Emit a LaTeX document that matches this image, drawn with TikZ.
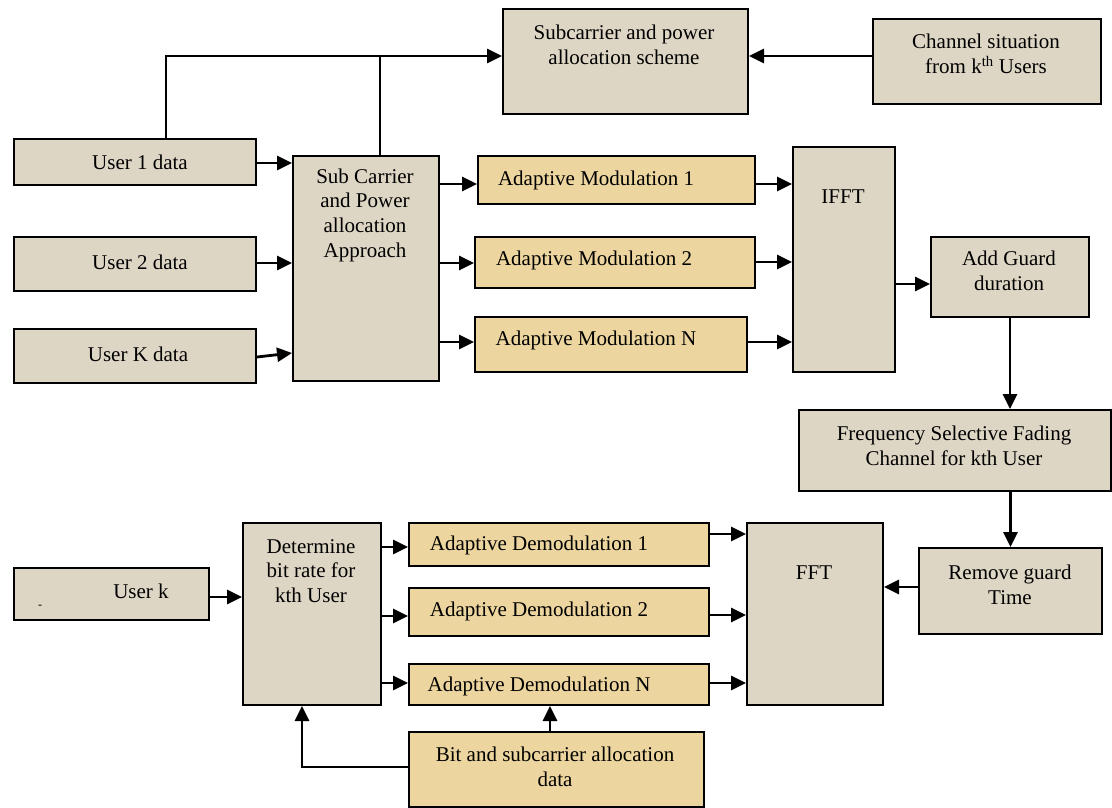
\documentclass[tikz,border=0pt]{standalone}
\usepackage{fontspec}
\setmainfont{Liberation Serif}
\usetikzlibrary{arrows.meta}
\definecolor{beige}{RGB}{222,214,197}
\definecolor{gold}{RGB}{236,213,158}
\tikzset{
  box/.style={draw=black, line width=2pt, fill=beige, inner sep=0pt, anchor=north west},
  goldbox/.style={box, fill=gold},
  txt/.style={font=\fontsize{21}{24.7}\selectfont, align=center, inner sep=0pt},
  arr/.style={line width=2.8pt, -{Triangle[length=15pt,width=14pt]}},
  ln/.style={line width=2.8pt}
}
\newcommand{\bx}[6]{\node[#1, minimum width=#4pt-#2pt, minimum height=#5pt-#3pt] (#6) at (#2,-#3) {};}
\begin{document}
\begin{tikzpicture}[x=1pt,y=1pt]
\useasboundingbox (0,0) rectangle (1112,-808);
% boxes
\bx{box}{502}{8}{747}{113}{scheme}
\bx{box}{872}{18}{1100}{103}{chan}
\bx{box}{13}{138}{255}{184}{uA}
\bx{box}{13}{236}{255}{290}{uB}
\bx{box}{13}{328}{255}{382}{uK}
\bx{box}{292}{155}{438}{380}{sca}
\bx{goldbox}{477}{155}{754}{203}{mA}
\bx{goldbox}{474}{236}{754}{287}{mB}
\bx{goldbox}{474}{316}{746}{371}{mN}
\bx{box}{792}{146}{894}{371}{ifft}
\bx{box}{930}{236}{1088}{316}{guard}
\bx{box}{798}{409}{1110}{490}{fsf}
\bx{box}{918}{547}{1101}{633}{rem}
\bx{box}{746}{522}{882}{704}{fft}
\bx{box}{242}{522}{380}{704}{det}
\bx{goldbox}{408}{522}{708}{565}{dA}
\bx{goldbox}{408}{587}{708}{635}{dB}
\bx{goldbox}{408}{663}{708}{704}{dN}
\bx{goldbox}{408}{731}{703}{806}{bit}
\bx{box}{13}{567}{208}{619}{uk}
% texts
\node[txt] (t-scheme) at (624,-45) {Subcarrier and power\\allocation scheme};
\node[txt] (t-chan) at (986,-54) {Channel situation\\from k\textsuperscript{th} Users};
\node[txt] (t-uA) at (140,-162) {User 1 data};
\node[txt] (t-uB) at (140,-262) {User 2 data};
\node[txt] (t-uK) at (138,-354) {User K data};
\node[txt] (t-sca) at (365,-215) {Sub Carrier\\and Power\\allocation\\Approach};
\node[txt] (t-mA) at (596,-180) {Adaptive Modulation 1};
\node[txt] (t-mB) at (594,-260) {Adaptive Modulation 2};
\node[txt] (t-mN) at (596,-340) {Adaptive Modulation N};
\node[txt] (t-ifft) at (843,-197) {IFFT};
\node[txt] (t-guard) at (1009,-271) {Add Guard\\duration};
\node[txt] (t-fsf) at (954,-446) {Frequency Selective Fading\\Channel for kth User};
\node[txt] (t-rem) at (1010,-585) {Remove guard\\Time};
\node[txt] (t-fft) at (814,-573) {FFT};
\node[txt] (t-det) at (311,-571) {Determine\\bit rate for\\kth User};
\node[txt] (t-dA) at (539,-545) {Adaptive Demodulation 1};
\node[txt] (t-dB) at (539,-611) {Adaptive Demodulation 2};
\node[txt] (t-dN) at (539,-686) {Adaptive Demodulation N};
\node[txt] (t-bit) at (555,-767) {Bit and subcarrier allocation\\data};
\node[txt] (t-uk) at (141,-591) {User k};
\node[font=\fontsize{12}{12}\selectfont, inner sep=0pt] (t-dash) at (40,-607) {-};
% junctions
\coordinate (jA) at (166,-56);
\coordinate (jB) at (380,-56);
\coordinate (jC) at (302,-767);
% connectors
\draw[arr] (uA.north -| jA) -- (jA) -- (scheme.west |- jA);
\draw[ln] (sca.north -| jB) -- (jB);
\draw[arr] (chan.west |- jA) -- (scheme.east |- jA);
\draw[arr] (uA.east |- 0,-163) -- (sca.west |- 0,-163);
\draw[arr] (uB.east |- 0,-263) -- (sca.west |- 0,-263);
\draw[arr] (uK.east |- 0,-357) -- (sca.west |- 0,-353);
\draw[arr] (sca.east |- 0,-184) -- (mA.west |- 0,-184);
\draw[arr] (sca.east |- 0,-263) -- (mB.west |- 0,-263);
\draw[arr] (sca.east |- 0,-342) -- (mN.west |- 0,-342);
\draw[arr] (mA.east |- 0,-184) -- (ifft.west |- 0,-184);
\draw[arr] (mB.east |- 0,-262) -- (ifft.west |- 0,-262);
\draw[arr] (mN.east |- 0,-342) -- (ifft.west |- 0,-342);
\draw[arr] (ifft.east |- 0,-284) -- (guard.west |- 0,-284);
\draw[arr] (guard.south) -- (guard.south |- fsf.north);
\draw[arr] (rem.north |- fsf.south) -- (rem.north);
\draw[arr] (rem.west |- 0,-587) -- (fft.east |- 0,-587);
\draw[arr] (uk.east |- 0,-597) -- (det.west |- 0,-597);
\draw[arr] (det.east |- 0,-547) -- (dA.west |- 0,-547);
\draw[arr] (det.east |- 0,-616) -- (dB.west |- 0,-616);
\draw[arr] (det.east |- 0,-683) -- (dN.west |- 0,-683);
\draw[arr] (dA.east |- 0,-534) -- (fft.west |- 0,-534);
\draw[arr] (dB.east |- 0,-615) -- (fft.west |- 0,-615);
\draw[arr] (dN.east |- 0,-683) -- (fft.west |- 0,-683);
\draw[arr] (bit.north -| 550,0) -- (dN.south -| 550,0);
\draw[arr] (bit.west |- jC) -- (jC) -- (det.south -| jC);
\end{tikzpicture}
\end{document}
